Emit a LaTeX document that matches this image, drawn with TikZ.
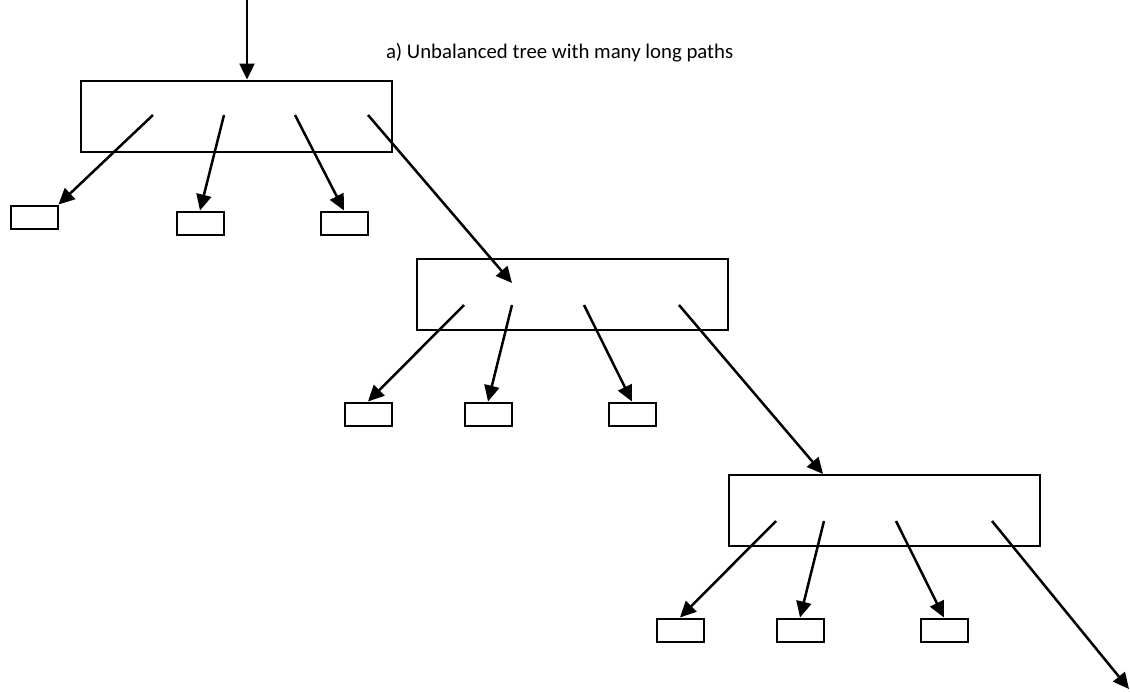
\documentclass[tikz,border=0pt]{standalone}
\usepackage{fontspec}
\setmainfont{Carlito}
\usetikzlibrary{arrows.meta}
\begin{document}
\begin{tikzpicture}[x=1pt, y=-1pt, line width=2pt]

    % Styles des noeuds
    \tikzstyle{bigbox} = [rectangle, draw=black, inner sep=0pt, minimum width=311pt, minimum height=71pt]
    \tikzstyle{leaf} = [rectangle, draw=black, inner sep=0pt, minimum width=47pt, minimum height=23pt]
    \tikzstyle{arrow} = [line width=2.5pt, -{Triangle[length=16pt, width=15pt]}]

    \useasboundingbox (0,0) rectangle (1130,691);

    % Titre
    \node[anchor=base west, inner sep=0pt, font=\fontsize{20.8}{25}\selectfont] (title) at (385,58) {a) Unbalanced tree with many long paths};

    % Boîtes
    \node (b1) [bigbox] at (236,116) {};
    \node (b2) [bigbox] at (572,294) {};
    \node (b3) [bigbox] at (884,510) {};

    % Feuilles
    \node (l11) [leaf] at (34,217) {};
    \node (l12) [leaf] at (200,223) {};
    \node (l13) [leaf] at (344,223) {};
    \node (l21) [leaf] at (368,414) {};
    \node (l22) [leaf] at (488,414) {};
    \node (l23) [leaf] at (632,414) {};
    \node (l31) [leaf] at (680,630) {};
    \node (l32) [leaf] at (800,630) {};
    \node (l33) [leaf] at (944,630) {};

    % Points de départ et d'arrivée
    \coordinate (top) at (247,0);
    \coordinate (s11) at (153,115);
    \coordinate (s12) at (224,115);
    \coordinate (s13) at (295,115);
    \coordinate (s14) at (368,115);
    \coordinate (in2) at (512,283);
    \coordinate (s21) at (464,305);
    \coordinate (s22) at (512,305);
    \coordinate (s23) at (584,305);
    \coordinate (s24) at (679,305);
    \coordinate (in3) at (823,474);
    \coordinate (s31) at (776,521);
    \coordinate (s32) at (824,521);
    \coordinate (s33) at (896,521);
    \coordinate (s34) at (992,521);
    \coordinate (end) at (1129,689);

    % Flèches
    \draw [arrow] (top) -- (top |- b1.north);
    \draw [arrow] (s11) -- (l11.north east);
    \draw [arrow] (s12) -- (l12.north);
    \draw [arrow] (s13) -- (l13.north);
    \draw [arrow] (s14) -- (in2);
    \draw [arrow] (s21) -- (l21.north);
    \draw [arrow] (s22) -- (l22.north);
    \draw [arrow] (s23) -- (l23.north);
    \draw [arrow] (s24) -- (in3);
    \draw [arrow] (s31) -- (l31.north);
    \draw [arrow] (s32) -- (l32.north);
    \draw [arrow] (s33) -- (l33.north);
    \draw [arrow] (s34) -- (end);

\end{tikzpicture}
\end{document}
